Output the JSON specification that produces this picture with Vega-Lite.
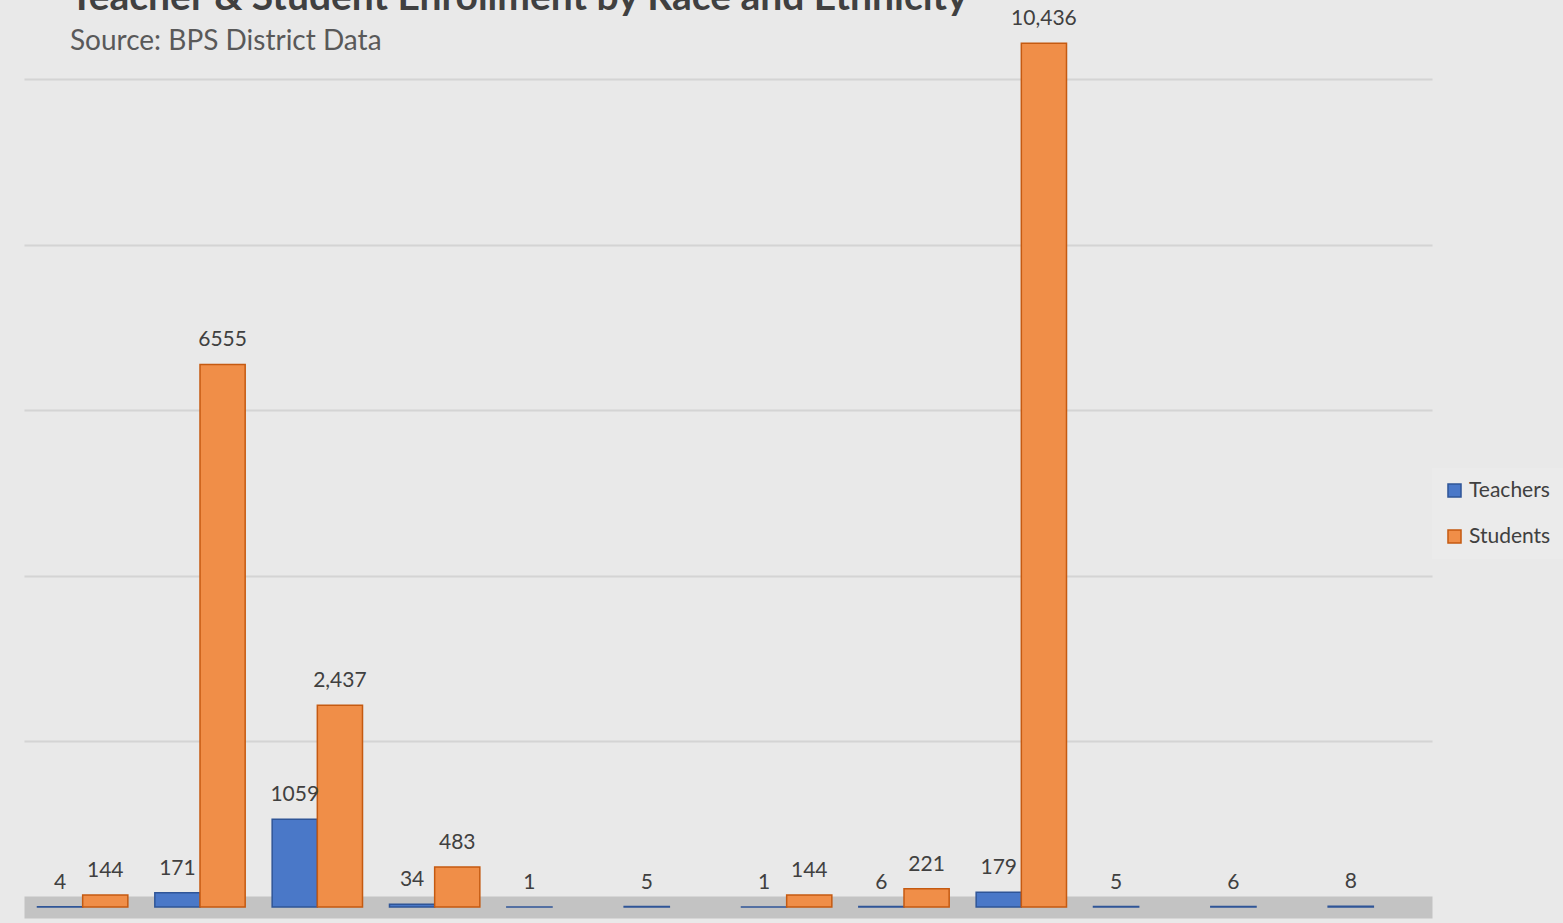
{
  "$schema": "https://vega.github.io/schema/vega-lite/v6.json",
  "width": 1408,
  "height": 869,
  "autosize": {"type": "none"},
  "padding": {"left": 24, "top": 38, "right": 131, "bottom": 16},
  "background": "#e9e9e9",
  "config": {
    "font": "Lato",
    "view": {"stroke": null},
    "axis": {"labelFont": "Lato"}
  },
  "title": {
    "text": "Teacher & Student Enrollment by Race and Ethnicity",
    "subtitle": "Source: BPS District Data",
    "anchor": "start",
    "dx": 46,
    "offset": -48,
    "fontSize": 39,
    "fontWeight": "bold",
    "color": "#404040",
    "subtitleFontSize": 28,
    "subtitleColor": "#595959",
    "subtitlePadding": 10,
    "font": "Lato",
    "subtitleFont": "Lato"
  },
  "data": {
    "values": [
      {"group": "1", "series": "Teachers", "value": 4, "label": "4"},
      {"group": "1", "series": "Students", "value": 144, "label": "144"},
      {"group": "2", "series": "Teachers", "value": 171, "label": "171"},
      {"group": "2", "series": "Students", "value": 6555, "label": "6555"},
      {"group": "3", "series": "Teachers", "value": 1059, "label": "1059"},
      {"group": "3", "series": "Students", "value": 2437, "label": "2,437"},
      {"group": "4", "series": "Teachers", "value": 34, "label": "34"},
      {"group": "4", "series": "Students", "value": 483, "label": "483"},
      {"group": "5", "series": "Teachers", "value": 1, "label": "1"},
      {"group": "6", "series": "Teachers", "value": 5, "label": "5"},
      {"group": "7", "series": "Teachers", "value": 1, "label": "1"},
      {"group": "7", "series": "Students", "value": 144, "label": "144"},
      {"group": "8", "series": "Teachers", "value": 6, "label": "6"},
      {"group": "8", "series": "Students", "value": 221, "label": "221"},
      {"group": "9", "series": "Teachers", "value": 179, "label": "179"},
      {"group": "9", "series": "Students", "value": 10436, "label": "10,436"},
      {"group": "10", "series": "Teachers", "value": 5, "label": "5"},
      {"group": "11", "series": "Teachers", "value": 6, "label": "6"},
      {"group": "12", "series": "Teachers", "value": 8, "label": "8"}
    ]
  },
  "encoding": {
    "x": {
      "field": "group",
      "type": "nominal",
      "sort": null,
      "scale": {"paddingInner": 0.23, "paddingOuter": 0.115},
      "axis": {
        "title": null,
        "labels": false,
        "ticks": false,
        "domain": true,
        "domainColor": "#c3c3c3",
        "domainWidth": 22
      }
    },
    "xOffset": {
      "field": "series",
      "type": "nominal",
      "sort": ["Teachers", "Students"],
      "scale": {"domain": ["Teachers", "Students"]}
    },
    "y": {
      "field": "value",
      "type": "quantitative",
      "scale": {"domain": [0, 10500], "nice": false},
      "axis": {
        "title": null,
        "labels": false,
        "ticks": false,
        "domain": false,
        "values": [2000, 4000, 6000, 8000, 10000],
        "gridColor": "#d4d4d4",
        "gridWidth": 2
      }
    }
  },
  "layer": [
    {
      "mark": {"type": "bar", "strokeWidth": 1.5},
      "encoding": {
        "color": {
          "field": "series",
          "type": "nominal",
          "sort": ["Teachers", "Students"],
          "scale": {"domain": ["Teachers", "Students"], "range": ["#4a78c8", "#f08e48"]},
          "legend": {
            "title": null,
            "orient": "none",
            "legendX": 1408,
            "legendY": 430,
            "symbolType": "square",
            "symbolSize": 170,
            "symbolStrokeWidth": 1.5,
            "labelFontSize": 21,
            "labelColor": "#404040",
            "labelFont": "Lato",
            "rowPadding": 24,
            "fillColor": "#ebebeb",
            "padding": 12
          }
        },
        "stroke": {
          "field": "series",
          "type": "nominal",
          "scale": {"domain": ["Teachers", "Students"], "range": ["#2f5597", "#c55a11"]},
          "legend": null
        }
      }
    },
    {
      "mark": {"type": "text", "baseline": "bottom", "dy": -14, "fontSize": 21, "color": "#404040", "font": "Lato"},
      "encoding": {"text": {"field": "label"}}
    }
  ]
}
